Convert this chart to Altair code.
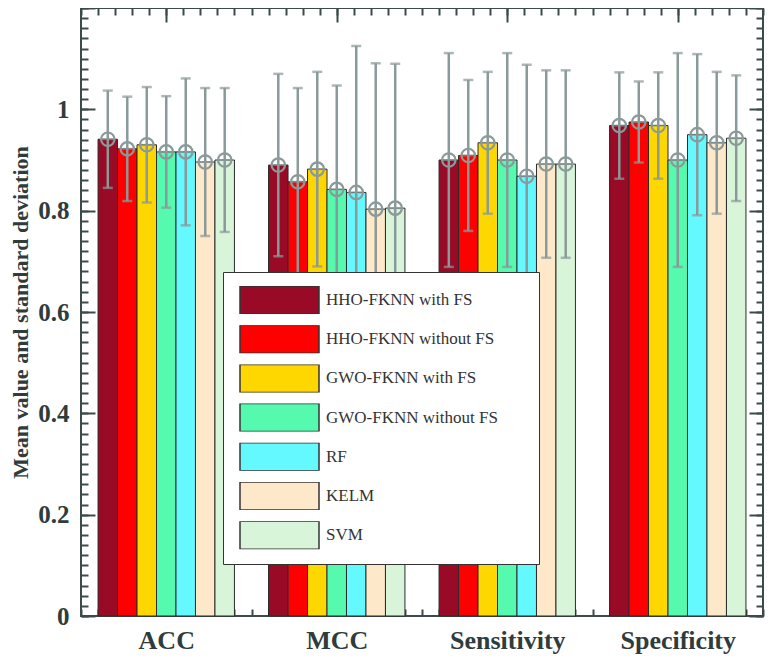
import altair as alt
import pandas as pd

categories = ["ACC", "MCC", "Sensitivity", "Specificity"]
models = ["HHO-FKNN with FS", "HHO-FKNN without FS", "GWO-FKNN with FS",
          "GWO-FKNN without FS", "RF", "KELM", "SVM"]
colors = ["#980A26", "#FF0000", "#FFD700", "#55FAAF", "#64F8FF", "#FDE9C9", "#D9F5D9"]

mean_acc = [0.941, 0.922, 0.930, 0.916, 0.916, 0.896, 0.900]
sd_acc = [0.096, 0.103, 0.114, 0.110, 0.145, 0.146, 0.142]
mean_mcc = [0.890, 0.857, 0.882, 0.842, 0.836, 0.803, 0.805]
sd_mcc = [0.180, 0.185, 0.192, 0.205, 0.289, 0.288, 0.285]
mean_sen = [0.900, 0.909, 0.934, 0.900, 0.868, 0.892, 0.892]
sd_sen = [0.211, 0.149, 0.140, 0.211, 0.220, 0.185, 0.185]
mean_spe = [0.968, 0.975, 0.968, 0.900, 0.950, 0.934, 0.943]
sd_spe = [0.105, 0.080, 0.105, 0.211, 0.159, 0.140, 0.124]

y_label_values = [0, 0.2, 0.4, 0.6, 0.8, 1.0]
y_major = [0, 0.2, 0.4, 0.6, 0.8, 1.0, 1.2]
y_minor = [round(i * 0.02, 2) for i in range(61)]
x_major = [1, 2, 3, 4]
x_minor = [round(0.5 + 0.1 * i, 1) for i in range(41)]

means = [mean_acc, mean_mcc, mean_sen, mean_spe]
sds = [sd_acc, sd_mcc, sd_sen, sd_spe]
rows = []
for c, mv, sv in zip(categories, means, sds):
    for m, mu, s in zip(models, mv, sv):
        rows.append({"metric": c, "model": m, "mean": mu, "lo": mu - s, "hi": mu + s})
df = pd.DataFrame(rows)

W, H = 682, 608
FONT = "Liberation Serif"
TXT = "#2F3C3C"
FRAME = "#3C4A4A"
ERR = "#8A9999"

y_scale = alt.Scale(domain=[0, 1.2], nice=False, zero=False)
x_band_scale = alt.Scale(paddingInner=0.2, paddingOuter=0.1)
xo_scale = alt.Scale(paddingInner=0, paddingOuter=0)

base = alt.Chart(df)
x_plain = alt.X("metric:N", sort=categories, scale=x_band_scale, axis=None)
xo = alt.XOffset("model:N", sort=models, scale=xo_scale)

bars = base.mark_bar(stroke="#2b2b2b", strokeWidth=1).encode(
    x=x_plain, xOffset=xo,
    y=alt.Y("mean:Q", scale=y_scale, axis=None),
    color=alt.Color("model:N", sort=models, scale=alt.Scale(domain=models, range=colors),
                    legend=alt.Legend(title="W", titleOrient="right", titleOpacity=0,
                                      titleFontSize=20, titlePadding=8,
                                      orient="none", legendX=142, legendY=264,
                                      padding=14, rowPadding=11.2,
                                      symbolType="M-1,-0.354L1,-0.354L1,0.354L-1,0.354Z",
                                      symbolSize=6241, symbolStrokeColor="#333333",
                                      symbolStrokeWidth=1.5, symbolOffset=2,
                                      labelOffset=6, clipHeight=28,
                                      labelFont=FONT, labelFontSize=17, labelColor="#333333",
                                      labelLimit=400,
                                      strokeColor="#333333", fillColor="white")),
)

rules = base.mark_rule(color=ERR, strokeWidth=2.5).encode(
    x=x_plain, xOffset=xo,
    y=alt.Y("lo:Q", scale=y_scale, axis=None), y2="hi:Q")
cap_lo = base.mark_tick(color=ERR, thickness=2.5, size=10).encode(
    x=x_plain, xOffset=xo, y=alt.Y("lo:Q", scale=y_scale, axis=None))
cap_hi = base.mark_tick(color=ERR, thickness=2.5, size=10).encode(
    x=x_plain, xOffset=xo, y=alt.Y("hi:Q", scale=y_scale, axis=None))
mid = base.mark_tick(color=ERR, thickness=2, size=15).encode(
    x=x_plain, xOffset=xo, y=alt.Y("mean:Q", scale=y_scale, axis=None))
pts = base.mark_point(shape="circle", filled=False, color=ERR, size=180,
                      strokeWidth=2.2, opacity=1).encode(
    x=x_plain, xOffset=xo, y=alt.Y("mean:Q", scale=y_scale, axis=None))

main = alt.layer(bars, rules, cap_lo, cap_hi, mid, pts)

ext_df = pd.DataFrame({"xt": [1.0], "yt": [0.0]})
xq = alt.Scale(domain=[0.5, 4.5], nice=False, zero=False)

cat_expr = "[" + ",".join("'" + c + "'" for c in categories) + "][round(datum.value) - 1]"

labels_layer = alt.Chart(ext_df).mark_point(opacity=0).encode(
    x=alt.X("xt:Q", scale=xq,
            axis=alt.Axis(orient="bottom", values=x_major, labelExpr=cat_expr,
                          ticks=False, domain=False, grid=False, title=None,
                          labelFont=FONT, labelFontSize=26, labelFontWeight="bold",
                          labelColor=TXT, labelPadding=11, labelFlush=False)),
    y=alt.Y("yt:Q", scale=y_scale,
            axis=alt.Axis(orient="left", title="Mean value and standard deviation",
                          values=y_label_values, format="~g", ticks=False,
                          domain=False, grid=False,
                          labelFont=FONT, labelFontSize=25, labelFontWeight="bold",
                          labelColor=TXT, labelPadding=12, labelFlush=False,
                          titleFont=FONT, titleFontSize=22, titleFontWeight="bold",
                          titleColor=TXT, titlePadding=5)),
)


def tick_layer(x_orient, y_orient, xvals, yvals, size):
    common = dict(labels=False, domain=False, grid=False, title=None,
                  ticks=True, tickSize=size, tickWidth=2, tickColor=FRAME)
    return alt.Chart(ext_df).mark_point(opacity=0).encode(
        x=alt.X("xt:Q", scale=xq,
                axis=alt.Axis(orient=x_orient, offset=-H, values=xvals, **common)),
        y=alt.Y("yt:Q", scale=y_scale,
                axis=alt.Axis(orient=y_orient, offset=-W, values=yvals, **common)),
    )


e1 = tick_layer("bottom", "right", x_minor, y_minor, 7)
e2 = tick_layer("bottom", "right", x_major, y_major, 14)
e3 = tick_layer("top", "left", x_minor, y_minor, 7)
e4 = tick_layer("top", "left", x_major, y_major, 14)

chart = alt.layer(main, labels_layer, e1, e2, e3, e4).resolve_scale(
    x="independent"
).resolve_axis(
    x="independent", y="independent"
).properties(
    width=W, height=H,
    autosize=alt.AutoSizeParams(type="none"),
    padding={"left": 73, "top": 0, "right": 4, "bottom": 40},
).configure_view(stroke=FRAME, strokeWidth=2)

chart.save("out.html", embed_options={"renderer": "svg", "actions": False})
